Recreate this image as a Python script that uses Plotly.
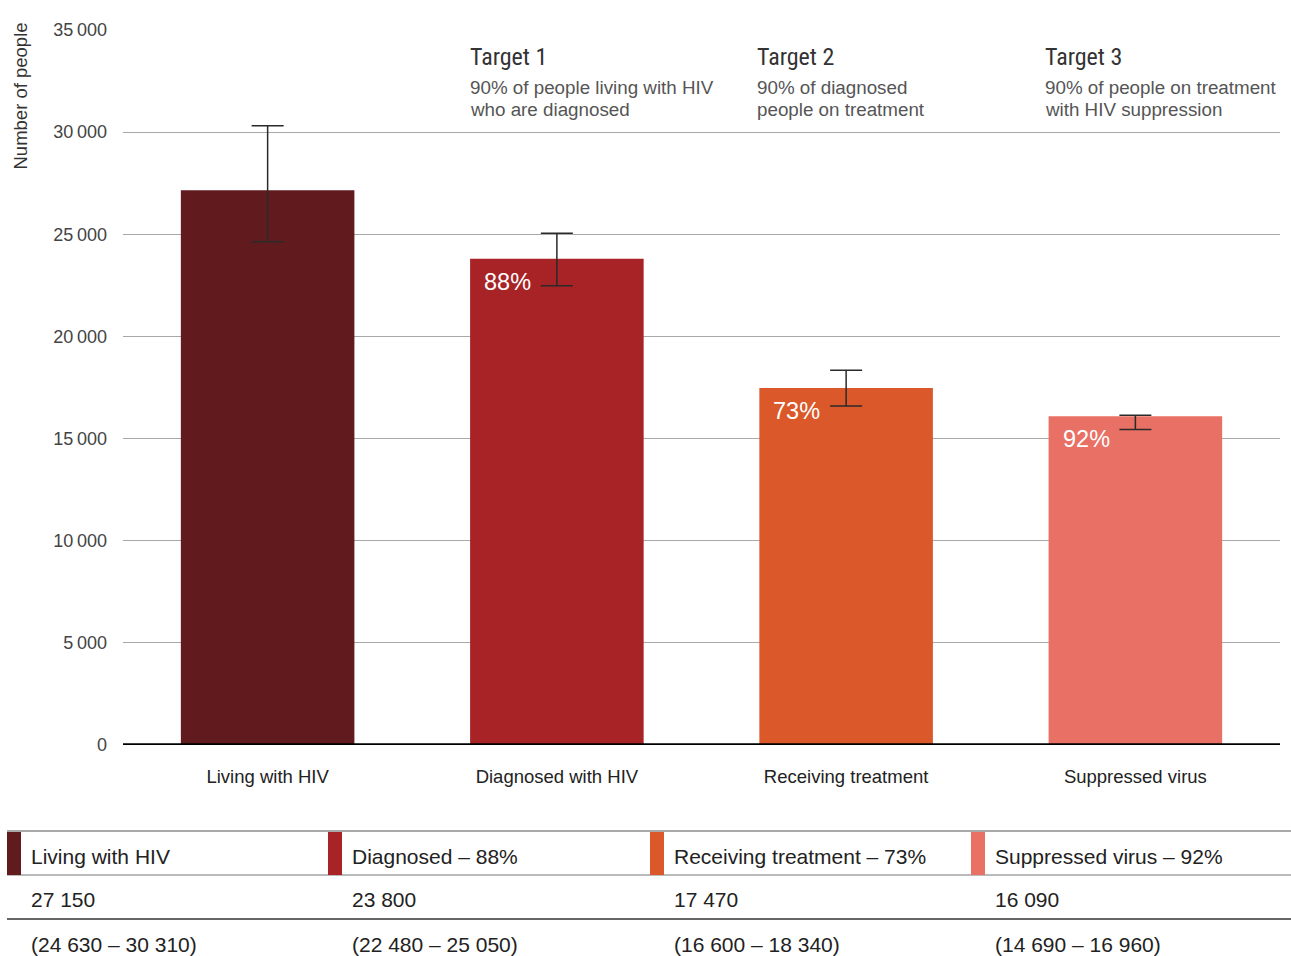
import plotly.graph_objects as go

# ---------------- data ----------------
categories = ["Living with HIV", "Diagnosed with HIV", "Receiving treatment", "Suppressed virus"]
values = [27150, 23800, 17470, 16090]
err_low = [24630, 22480, 16600, 15440]
err_high = [30310, 25050, 18340, 16140]
pct_labels = ["", "88%", "73%", "92%"]
bar_colors = ["#611B1F", "#A82326", "#DA5829", "#E97064"]

y_ticks = [0, 5000, 10000, 15000, 20000, 25000, 30000, 35000]
y_tick_labels = ["0", "5\u2009000", "10\u2009000", "15\u2009000", "20\u2009000",
                 "25\u2009000", "30\u2009000", "35\u2009000"]

target_titles = ["Target 1", "Target 2", "Target 3"]
target_lines = [
    ["90% of people living with HIV", "who are diagnosed"],
    ["90% of diagnosed", "people on treatment"],
    ["90% of people on treatment", "with HIV suppression"],
]

table_headers = ["Living with HIV", "Diagnosed \u2013 88%", "Receiving treatment \u2013 73%",
                 "Suppressed virus \u2013 92%"]
table_values = ["27 150", "23 800", "17 470", "16 090"]
table_ranges = ["(24 630 \u2013 30 310)", "(22 480 \u2013 25 050)", "(16 600 \u2013 18 340)",
                "(14 690 \u2013 16 960)"]

# ---------------- layout helpers ----------------
W_FIG, H_FIG = 1291, 956
L, R, T, B = 123, 1280, 30, 745


def px(x):
    return (x - L) / (R - L)


def py(y):
    return (B - y) / (B - T)


FONT = "Liberation Sans, Arial, Helvetica, sans-serif"
NARROW = "Liberation Sans Narrow, Roboto Condensed, Liberation Sans, Arial, sans-serif"

fig = go.Figure()
fig.add_trace(go.Bar(
    x=list(range(len(categories))),
    y=values,
    width=0.6,
    marker=dict(color=bar_colors, line=dict(width=0)),
    error_y=dict(
        type="data", symmetric=False,
        array=[h - v for h, v in zip(err_high, values)],
        arrayminus=[v - l for v, l in zip(values, err_low)],
        color="#2a2a2a", thickness=1.5, width=16,
    ),
    hoverinfo="skip",
))

annotations = []
shapes = []

# y-axis title
annotations.append(dict(
    text="Number of people", textangle=-90, xref="paper", yref="paper",
    x=px(20), y=py(21), xanchor="center", yanchor="top", showarrow=False,
    font=dict(family=FONT, size=18.5, color="#333"),
))

# percentage labels in bars
for i, lab in enumerate(pct_labels):
    if lab:
        annotations.append(dict(
            text=lab, xref="x", yref="y", x=i - 0.3, y=values[i],
            xanchor="left", yanchor="middle", xshift=12, yshift=-23,
            showarrow=False, font=dict(family=FONT, size=23.5, color="white"),
        ))

# target texts
target_x = [470, 757, 1045]
for j, (title, lines) in enumerate(zip(target_titles, target_lines)):
    annotations.append(dict(
        text=title, xref="paper", yref="paper", x=px(target_x[j]), y=py(57),
        xanchor="left", yanchor="middle", xshift=-2, showarrow=False,
        font=dict(family=NARROW, size=24, color="#333"),
    ))
    for k, line in enumerate(lines):
        annotations.append(dict(
            text=line, xref="paper", yref="paper", x=px(target_x[j]), y=py(87 + 22 * k),
            xanchor="left", yanchor="middle", xshift=-2, showarrow=False,
            font=dict(family=FONT, size=18.8, color="#555"),
        ))

# baseline
shapes.append(dict(type="line", xref="paper", yref="y", x0=0, x1=1, y0=0, y1=0,
                   line=dict(color="black", width=3.5), layer="above"))

# table
col_left = [7, 328, 650, 971]
shapes.append(dict(type="line", xref="paper", yref="paper", x0=px(7), x1=px(1291),
                   y0=py(831), y1=py(831), line=dict(color="#555", width=1)))
shapes.append(dict(type="line", xref="paper", yref="paper", x0=px(7), x1=px(1291),
                   y0=py(875), y1=py(875), line=dict(color="#777", width=1)))
shapes.append(dict(type="line", xref="paper", yref="paper", x0=px(7), x1=px(1291),
                   y0=py(919), y1=py(919), line=dict(color="#333", width=1.3)))
for c, x0 in enumerate(col_left):
    shapes.append(dict(type="rect", xref="paper", yref="paper",
                       x0=px(x0), x1=px(x0 + 14), y0=py(875), y1=py(832),
                       fillcolor=bar_colors[c], line=dict(width=0)))
    for txt, yy in ((table_headers[c], 856), (table_values[c], 900), (table_ranges[c], 944)):
        annotations.append(dict(
            text=txt, xref="paper", yref="paper", x=px(x0 + 22), y=py(yy),
            xanchor="left", yanchor="middle", showarrow=False,
            font=dict(family=FONT, size=21, color="#222"),
        ))

fig.update_layout(
    width=W_FIG, height=H_FIG,
    margin=dict(l=L, r=W_FIG - R, t=T, b=H_FIG - B, pad=0),
    paper_bgcolor="white", plot_bgcolor="white",
    showlegend=False, bargap=0.4,
    font=dict(family=FONT, color="#333"),
    xaxis=dict(
        range=[-0.5, 3.5], tickmode="array", tickvals=list(range(len(categories))),
        ticktext=categories, showgrid=False, zeroline=False, showline=False,
        ticks="outside", ticklen=15, tickcolor="rgba(0,0,0,0)",
        tickfont=dict(family=FONT, size=18.5, color="#222"), fixedrange=True,
    ),
    yaxis=dict(
        range=[0, 35000], tickmode="array", tickvals=y_ticks, ticktext=y_tick_labels,
        showgrid=True, gridcolor="#a8a8a8", gridwidth=1, zeroline=False, showline=False,
        ticks="", ticklabelstandoff=15,
        tickfont=dict(family=FONT, size=18, color="#444"), fixedrange=True,
    ),
    annotations=annotations, shapes=shapes,
)

fig.write_html("out.html", config={"displayModeBar": False},
               post_script="document.body.style.margin='0';document.body.style.overflow='hidden';")
